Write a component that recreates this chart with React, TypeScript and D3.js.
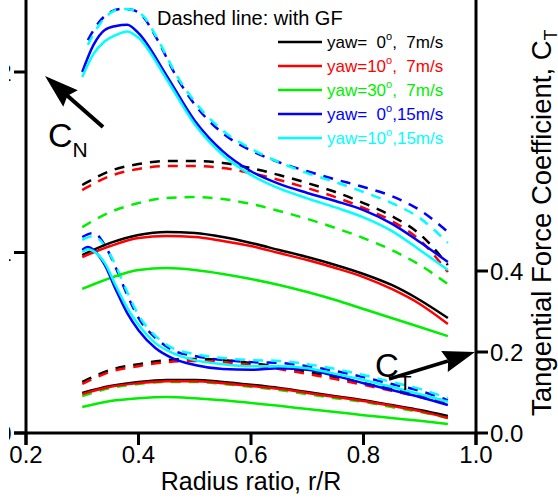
import React from 'react';
import * as d3 from 'd3';

const W = 558;
const H = 504;

// Radial stations (r/R)
const r7 = [0.30, 0.35, 0.40, 0.45, 0.50, 0.55, 0.60, 0.65, 0.70, 0.75, 0.80, 0.85, 0.90, 0.95];
const r15Solid = [0.30, 0.32, 0.34, 0.36, 0.38, 0.40, 0.45, 0.50, 0.55, 0.60, 0.65, 0.70, 0.75, 0.80, 0.85, 0.90, 0.95];
const r15Dashed = [0.31, 0.33, 0.35, 0.37, 0.39, 0.41, 0.43, 0.47, 0.50, 0.55, 0.60, 0.65, 0.70, 0.75, 0.80, 0.85, 0.90, 0.95];
const r15TSolid = [0.30, 0.31, 0.32, 0.34, 0.36, 0.38, 0.40, 0.43, 0.46, 0.50, 0.55, 0.60, 0.65, 0.70, 0.75, 0.80, 0.85, 0.90, 0.95];
const r15TDashed = [0.30, 0.32, 0.34, 0.36, 0.38, 0.40, 0.43, 0.46, 0.50, 0.55, 0.60, 0.65, 0.70, 0.75, 0.80, 0.85, 0.90, 0.95];

// Normal force coefficient C_N (left axis)
const cnYaw0v7 = [0.986, 1.053, 1.097, 1.114, 1.108, 1.086, 1.053, 1.014, 0.975, 0.931, 0.881, 0.820, 0.737, 0.637];
const cnYaw10v7 = [0.975, 1.036, 1.080, 1.091, 1.086, 1.064, 1.036, 0.997, 0.958, 0.914, 0.864, 0.798, 0.715, 0.604];
const cnYaw30v7 = [0.798, 0.859, 0.903, 0.914, 0.903, 0.881, 0.853, 0.820, 0.781, 0.737, 0.687, 0.637, 0.587, 0.537];
const cnYaw0v7GF = [1.374, 1.452, 1.490, 1.507, 1.507, 1.496, 1.468, 1.429, 1.385, 1.335, 1.274, 1.202, 1.102, 0.931];
const cnYaw10v7GF = [1.346, 1.424, 1.463, 1.479, 1.479, 1.468, 1.440, 1.402, 1.357, 1.307, 1.247, 1.175, 1.069, 0.892];
const cnYaw30v7GF = [1.141, 1.224, 1.274, 1.302, 1.307, 1.296, 1.269, 1.230, 1.186, 1.136, 1.080, 1.014, 0.931, 0.825];
const cnYaw0v15 = [2.000, 2.150, 2.233, 2.255, 2.262, 2.215, 1.980, 1.730, 1.560, 1.450, 1.380, 1.330, 1.285, 1.235, 1.160, 1.058, 0.947];
const cnYaw10v15 = [1.972, 2.100, 2.170, 2.205, 2.225, 2.190, 1.960, 1.710, 1.540, 1.430, 1.355, 1.300, 1.250, 1.195, 1.120, 1.014, 0.903];
const cnYaw0v15GF = [2.177, 2.277, 2.332, 2.349, 2.343, 2.299, 2.199, 1.960, 1.820, 1.660, 1.565, 1.500, 1.450, 1.405, 1.363, 1.313, 1.235, 1.114];
const cnYaw10v15GF = [2.150, 2.260, 2.327, 2.349, 2.343, 2.305, 2.205, 1.970, 1.835, 1.675, 1.575, 1.500, 1.440, 1.390, 1.335, 1.274, 1.191, 1.053];

// Tangential force coefficient C_T (right axis)
const ctYaw0v7 = [0.099, 0.116, 0.126, 0.131, 0.131, 0.126, 0.119, 0.111, 0.101, 0.091, 0.081, 0.069, 0.057, 0.042];
const ctYaw10v7 = [0.096, 0.114, 0.123, 0.128, 0.128, 0.123, 0.116, 0.109, 0.099, 0.089, 0.079, 0.067, 0.054, 0.037];
const ctYaw30v7 = [0.064, 0.079, 0.086, 0.089, 0.086, 0.081, 0.074, 0.067, 0.059, 0.052, 0.044, 0.037, 0.030, 0.022];
const ctYaw0v7GF = [0.126, 0.156, 0.170, 0.180, 0.183, 0.180, 0.173, 0.163, 0.151, 0.138, 0.123, 0.109, 0.094, 0.077];
const ctYaw10v7GF = [0.121, 0.151, 0.165, 0.175, 0.178, 0.175, 0.168, 0.158, 0.146, 0.133, 0.119, 0.104, 0.089, 0.072];
const ctYaw30v7GF = [0.091, 0.111, 0.121, 0.126, 0.126, 0.121, 0.114, 0.106, 0.096, 0.086, 0.077, 0.064, 0.052, 0.037];
const ctYaw0v15 = [0.452, 0.459, 0.452, 0.415, 0.353, 0.296, 0.254, 0.210, 0.185, 0.168, 0.158, 0.156, 0.160, 0.156, 0.141, 0.123, 0.106, 0.089, 0.069];
const ctYaw10v15 = [0.447, 0.454, 0.449, 0.420, 0.363, 0.309, 0.267, 0.222, 0.198, 0.180, 0.170, 0.165, 0.165, 0.160, 0.146, 0.131, 0.114, 0.096, 0.077];
const ctYaw0v15GF = [0.484, 0.494, 0.464, 0.407, 0.341, 0.284, 0.235, 0.205, 0.190, 0.180, 0.175, 0.173, 0.165, 0.153, 0.138, 0.121, 0.104, 0.081];
const ctYaw10v15GF = [0.477, 0.486, 0.462, 0.412, 0.348, 0.291, 0.240, 0.210, 0.195, 0.185, 0.180, 0.178, 0.170, 0.158, 0.143, 0.126, 0.109, 0.086];

// Axis ticks
const xTicks = [0.2, 0.4, 0.6, 0.8, 1.0];
const cnTicks = [0, 1, 2];
const ctTicks = [0.0, 0.2, 0.4];

// Legend
const legendCases = ['0', '10', '30', '0', '10'];
const legendSpeeds = ['7m/s', '7m/s', '7m/s', '15m/s', '15m/s'];
const caseColors = ['#000000', '#ff0000', '#00ee00', '#0000ff', '#00ffff'];

const FONT = 'Liberation Sans, Arial, Helvetica, sans-serif';

type Series = { r: number[]; v: number[]; axis: 'N' | 'T'; color: string; dashed: boolean };

const series: Series[] = [
  { r: r7, v: cnYaw0v7GF, axis: 'N', color: caseColors[0], dashed: true },
  { r: r7, v: cnYaw10v7GF, axis: 'N', color: caseColors[1], dashed: true },
  { r: r7, v: cnYaw30v7GF, axis: 'N', color: caseColors[2], dashed: true },
  { r: r15Dashed, v: cnYaw0v15GF, axis: 'N', color: caseColors[3], dashed: true },
  { r: r15Dashed, v: cnYaw10v15GF, axis: 'N', color: caseColors[4], dashed: true },
  { r: r7, v: ctYaw0v7GF, axis: 'T', color: caseColors[0], dashed: true },
  { r: r7, v: ctYaw10v7GF, axis: 'T', color: caseColors[1], dashed: true },
  { r: r7, v: ctYaw30v7GF, axis: 'T', color: caseColors[2], dashed: true },
  { r: r15TDashed, v: ctYaw0v15GF, axis: 'T', color: caseColors[3], dashed: true },
  { r: r15TDashed, v: ctYaw10v15GF, axis: 'T', color: caseColors[4], dashed: true },
  { r: r7, v: cnYaw30v7, axis: 'N', color: caseColors[2], dashed: false },
  { r: r7, v: cnYaw0v7, axis: 'N', color: caseColors[0], dashed: false },
  { r: r7, v: cnYaw10v7, axis: 'N', color: caseColors[1], dashed: false },
  { r: r15Solid, v: cnYaw0v15, axis: 'N', color: caseColors[3], dashed: false },
  { r: r15Solid, v: cnYaw10v15, axis: 'N', color: caseColors[4], dashed: false },
  { r: r7, v: ctYaw30v7, axis: 'T', color: caseColors[2], dashed: false },
  { r: r7, v: ctYaw0v7, axis: 'T', color: caseColors[0], dashed: false },
  { r: r7, v: ctYaw10v7, axis: 'T', color: caseColors[1], dashed: false },
  { r: r15TSolid, v: ctYaw0v15, axis: 'T', color: caseColors[3], dashed: false },
  { r: r15TSolid, v: ctYaw10v15, axis: 'T', color: caseColors[4], dashed: false },
];

const X0 = 26;
const X1 = 476;
const Y0 = 433;

const x = d3.scaleLinear().domain([0.2, 1.0]).range([X0, X1]);
const yN = d3.scaleLinear().domain([0, 2.4]).range([Y0, Y0 - 2.4 * 180.5]);
const yT = d3.scaleLinear().domain([0, 1.0]).range([Y0, Y0 - 405]);

function arrowHead(x1: number, y1: number, x2: number, y2: number, len: number, wid: number) {
  const a = Math.atan2(y2 - y1, x2 - x1);
  const bx = x2 - len * Math.cos(a);
  const by = y2 - len * Math.sin(a);
  const nx = -Math.sin(a) * wid / 2;
  const ny = Math.cos(a) * wid / 2;
  return `M${x2},${y2}L${bx + nx},${by + ny}L${bx + len * 0.12 * Math.cos(a)},${by + len * 0.12 * Math.sin(a)}L${bx - nx},${by - ny}Z`;
}

export default function App() {
  const lineFor = (s: Series) => {
    const ys = s.axis === 'N' ? yN : yT;
    const gen = d3
      .line<number>()
      .x((_, i) => x(s.r[i]))
      .y((d) => ys(d))
      .curve(d3.curveMonotoneX);
    return gen(s.v) || '';
  };

  const tickLen = 12;

  return (
    <svg
      width={W}
      height={H}
      style={{ position: 'absolute', left: 0, top: 0, background: '#fff', fontFamily: FONT }}
    >
      <defs>
        <clipPath id="leftLabelClip">
          <rect x={9} y={0} width={6} height={H} />
        </clipPath>
      </defs>

      {/* curves */}
      <g fill="none" strokeWidth={2.5} strokeLinejoin="round">
        {series.map((s, i) => (
          <path
            key={i}
            d={lineFor(s)}
            stroke={s.color}
            strokeDasharray={s.dashed ? '10,8' : undefined}
          />
        ))}
      </g>

      {/* axes */}
      <g stroke="#000" strokeWidth={3}>
        <line x1={X0 - tickLen} y1={Y0} x2={X1} y2={Y0} />
        <line x1={X0} y1={0} x2={X0} y2={Y0 + tickLen} />
        <line x1={X1} y1={0} x2={X1} y2={Y0 + tickLen} />
        {xTicks.map((t) => (
          <line key={'xt' + t} x1={x(t)} y1={Y0} x2={x(t)} y2={Y0 + tickLen} />
        ))}
        {cnTicks.map((t) => (
          <line key={'nt' + t} x1={X0 - tickLen} y1={yN(t)} x2={X0} y2={yN(t)} />
        ))}
        {ctTicks.map((t) => (
          <line key={'tt' + t} x1={X1} y1={yT(t)} x2={X1 + tickLen} y2={yT(t)} />
        ))}
      </g>

      {/* tick labels */}
      <g fontSize={24} fill="#000">
        {xTicks.map((t) => (
          <text key={'xl' + t} x={x(t)} y={Y0 + 30} textAnchor="middle">
            {d3.format('.1f')(t)}
          </text>
        ))}
        <g clipPath="url(#leftLabelClip)">
          {cnTicks.map((t) => (
            <text key={'nl' + t} x={11.5} y={yN(t) + 8.5} textAnchor="end">
              {t}
            </text>
          ))}
        </g>
        {ctTicks.map((t) => (
          <text key={'tl' + t} x={X1 + 14} y={yT(t) + 8.5} textAnchor="start">
            {d3.format('.1f')(t)}
          </text>
        ))}
      </g>

      {/* axis titles */}
      <text x={251} y={490} fontSize={25} textAnchor="middle">
        Radius ratio, r/R
      </text>
      <text transform="translate(551,416) rotate(-90)" fontSize={27.5} textAnchor="start">
        Tangential Force Coefficient, C
        <tspan fontSize={18} dy={6}>T</tspan>
      </text>

      {/* legend */}
      <text x={157} y={25} fontSize={20}>
        Dashed line: with GF
      </text>
      {legendCases.map((c, i) => {
        const ly = 42 + i * 24;
        const pad = c.length === 1 ? '  ' : '';
        const sep = legendSpeeds[i].length === 4 ? ',  ' : ',';
        return (
          <g key={'lg' + i}>
            <line x1={278} x2={322} y1={ly} y2={ly} stroke={caseColors[i]} strokeWidth={2.5} />
            <text x={327} y={ly + 6} fontSize={17} fill={caseColors[i]} style={{ whiteSpace: 'pre' }}>
              {'yaw=' + pad + c}
              <tspan fontSize={11} dy={-8}>o</tspan>
              <tspan dy={8}>{sep + legendSpeeds[i]}</tspan>
            </text>
          </g>
        );
      })}

      {/* C_N annotation */}
      <line x1={103} y1={127} x2={62} y2={91} stroke="#000" strokeWidth={4} />
      <path d={arrowHead(103, 127, 45, 76, 34, 22)} fill="#000" />
      <text x={48} y={147} fontSize={34}>
        C
        <tspan fontSize={21} dy={10}>N</tspan>
      </text>

      {/* C_T annotation */}
      <line x1={389} y1={379} x2={448} y2={361} stroke="#000" strokeWidth={3.5} />
      <path d={arrowHead(389, 379, 475, 352, 32, 22)} fill="#000" />
      <text x={375} y={377} fontSize={33}>
        C
        <tspan fontSize={21} dy={13}>T</tspan>
      </text>
    </svg>
  );
}
